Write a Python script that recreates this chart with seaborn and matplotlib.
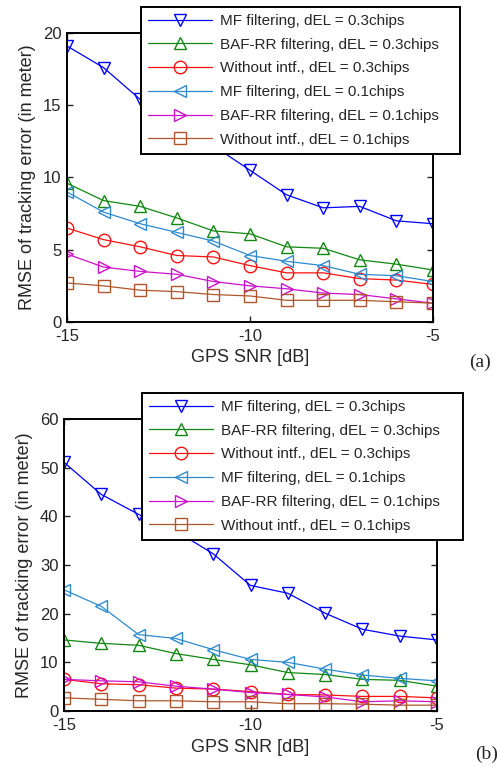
import numpy as np
import pandas as pd
import matplotlib
matplotlib.use("Agg")
import matplotlib.pyplot as plt
import seaborn as sns

# GPS SNR axis shared by both panels
snr = [-15, -14, -13, -12, -11, -10, -9, -8, -7, -6, -5]

labels = [
    "MF filtering, dEL = 0.3chips",
    "BAF-RR filtering, dEL = 0.3chips",
    "Without intf., dEL = 0.3chips",
    "MF filtering, dEL = 0.1chips",
    "BAF-RR filtering, dEL = 0.1chips",
    "Without intf., dEL = 0.1chips",
]

# panel (a)
mf_03_a = [19.1, 17.6, 15.4, 14.0, 12.2, 10.5, 8.8, 7.9, 8.0, 7.0, 6.8]
baf_03_a = [9.6, 8.4, 8.0, 7.2, 6.3, 6.1, 5.2, 5.1, 4.3, 4.0, 3.6]
wo_03_a = [6.5, 5.7, 5.2, 4.6, 4.5, 3.9, 3.4, 3.4, 3.0, 2.9, 2.6]
mf_01_a = [9.0, 7.6, 6.8, 6.2, 5.6, 4.6, 4.2, 3.9, 3.3, 3.2, 2.8]
baf_01_a = [4.7, 3.8, 3.5, 3.3, 2.8, 2.5, 2.3, 2.0, 1.9, 1.6, 1.3]
wo_01_a = [2.7, 2.5, 2.2, 2.1, 1.9, 1.8, 1.5, 1.5, 1.5, 1.4, 1.3]

# panel (b)
mf_03_b = [51.1, 44.5, 40.4, 37.0, 32.3, 25.8, 24.2, 20.1, 16.8, 15.4, 14.6]
baf_03_b = [14.6, 13.9, 13.5, 11.8, 10.6, 9.5, 7.9, 7.5, 6.5, 6.3, 5.1]
wo_03_b = [6.5, 5.6, 5.4, 4.7, 4.5, 4.0, 3.4, 3.3, 3.0, 3.0, 2.7]
mf_01_b = [24.9, 21.5, 15.7, 14.9, 12.6, 10.6, 10.0, 8.6, 7.4, 6.7, 6.2]
baf_01_b = [6.5, 6.2, 6.0, 5.1, 4.5, 3.8, 3.4, 2.9, 1.9, 2.1, 1.9]
wo_01_b = [2.7, 2.4, 2.1, 2.1, 1.9, 1.9, 1.5, 1.5, 1.4, 1.2, 1.2]

colors = ['#0000FF', '#118811', '#FF1010', '#2E8BCF', '#CC10CC', '#B0562B']
markers = ['v', '^', 'o', '<', '>', 's']


def draw_panel(fig, rect, series, yticks, leg_rect, tag, tag_xy):
    ax = fig.add_axes(rect)
    for vals, lab, c, m in zip(series, labels, colors, markers):
        sns.lineplot(x=snr, y=vals, ax=ax, color=c, marker=m, label=lab,
                     markersize=9, markerfacecolor='none', markeredgecolor=c,
                     markeredgewidth=1.0, linewidth=0.9)
    ax.set_xlim(-15, -5)
    ax.set_ylim(yticks[0], yticks[-1])
    ax.set_xticks([-15, -10, -5])
    ax.set_xticklabels(['-15', '-10', '-5'])
    ax.set_yticks(yticks)
    ax.tick_params(direction='in', top=True, right=True, length=4,
                   width=1.0, labelsize=12)
    ax.tick_params(axis='x', pad=5)
    ax.tick_params(axis='y', pad=4)
    for sp in ax.spines.values():
        sp.set_visible(True)
        sp.set_linewidth(1.4)
        sp.set_color('black')
    ax.set_xlabel("GPS SNR [dB]", fontsize=13, labelpad=4)
    ax.set_ylabel("RMSE of tracking error (in meter)", fontsize=13, labelpad=5)
    ax.legend(loc='upper left', bbox_to_anchor=leg_rect,
              bbox_transform=fig.transFigure, mode='expand',
              fontsize=11, frameon=True, fancybox=False, framealpha=1,
              edgecolor='black', handlelength=4.2, labelspacing=0.64,
              borderpad=0.45, handletextpad=0.5, borderaxespad=0)
    ax.get_legend().get_frame().set_linewidth(1.4)
    ax.get_legend().set_zorder(10)
    fig.text(tag_xy[0], tag_xy[1], tag, fontsize=14,
             family='Liberation Serif', ha='center', va='center')
    return ax


def main():
    sns.set_theme(style="ticks")
    plt.rcParams['font.family'] = ['Liberation Sans', 'DejaVu Sans']

    fig = plt.figure(figsize=(4.97, 7.67), dpi=100)

    draw_panel(fig, [0.1348, 0.5802, 0.7364, 0.3768],
               [mf_03_a, baf_03_a, wo_03_a, mf_01_a, baf_01_a, wo_01_a],
               [0, 5, 10, 15, 20],
               (0.2837, 0.9909, 0.6419, 0.0), "(a)", (0.966, 0.528))
    draw_panel(fig, [0.1288, 0.0730, 0.7505, 0.3807],
               [mf_03_b, baf_03_b, wo_03_b, mf_01_b, baf_01_b, wo_01_b],
               [0, 10, 20, 30, 40, 50, 60],
               (0.2857, 0.4876, 0.6459, 0.0), "(b)", (0.978, 0.016))

    fig.savefig("out.png", dpi=100)
    plt.close(fig)


if __name__ == "__main__":
    main()
